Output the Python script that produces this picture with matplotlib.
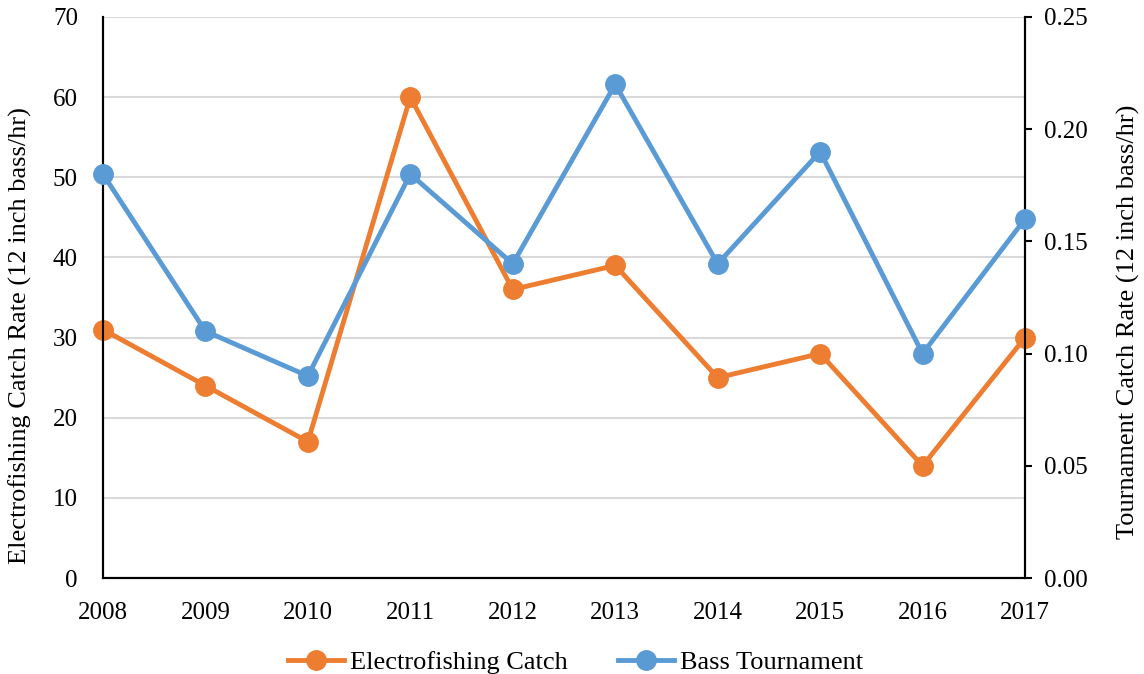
import matplotlib.pyplot as plt

plt.rcParams['font.family'] = ['Liberation Serif', 'DejaVu Serif']

# Data
years = [2008, 2009, 2010, 2011, 2012, 2013, 2014, 2015, 2016, 2017]
electro_catch = [31, 24, 17, 60, 36, 39, 25, 28, 14, 30]
tournament_rate = [0.18, 0.11, 0.09, 0.18, 0.14, 0.22, 0.14, 0.19, 0.10, 0.16]

orange = '#ED7D31'
blue = '#5B9BD5'

fig = plt.figure(figsize=(11.44, 6.74), dpi=100)
ax = fig.add_axes([0.090, 0.1424, 0.806, 0.8324])
ax2 = ax.twinx()

l1, = ax.plot(years, electro_catch, color=orange, linewidth=3.5, marker='o',
              markersize=14, label='Electrofishing Catch', zorder=3, clip_on=False)
l2, = ax2.plot(years, tournament_rate, color=blue, linewidth=3.5, marker='o',
               markersize=14, label='Bass Tournament', zorder=3, clip_on=False)

ax.set_xlim(2008, 2017)
ax.set_ylim(0, 70)
ax.set_yticks(range(0, 71, 10))
ax2.set_ylim(0, 0.25)
ax2.set_yticks([0, 0.05, 0.10, 0.15, 0.20, 0.25])
ax2.set_yticklabels(['%.2f' % v for v in [0, 0.05, 0.10, 0.15, 0.20, 0.25]])
ax.set_xticks(years)

ax.grid(axis='y', color='#D9D9D9', linewidth=1.5)
ax.set_axisbelow(True)

for a in (ax, ax2):
    a.spines['top'].set_visible(False)
    a.spines['left'].set_linewidth(1.5)
    a.spines['right'].set_linewidth(1.5)
    a.spines['bottom'].set_linewidth(1.5)

ax.tick_params(axis='y', length=0, labelsize=18, pad=18)
ax.tick_params(axis='x', length=0, labelsize=18, pad=17)
ax2.tick_params(axis='y', length=5, width=1.5, labelsize=18, pad=9)

ax.set_ylabel('Electrofishing Catch Rate (12 inch bass/hr)', fontsize=19)
ax.yaxis.set_label_coords(-0.077, 0.433)
ax2.set_ylabel('Tournament Catch Rate (12 inch bass/hr)', fontsize=19)
ax2.yaxis.set_label_coords(1.100, 0.456)

fig.legend(handles=[l1, l2], loc='lower center', bbox_to_anchor=(0.5035, -0.035),
           ncol=2, frameon=False, fontsize=19, handlelength=2.1,
           handletextpad=0.25, columnspacing=1.9)

fig.savefig('out.png', dpi=100)
